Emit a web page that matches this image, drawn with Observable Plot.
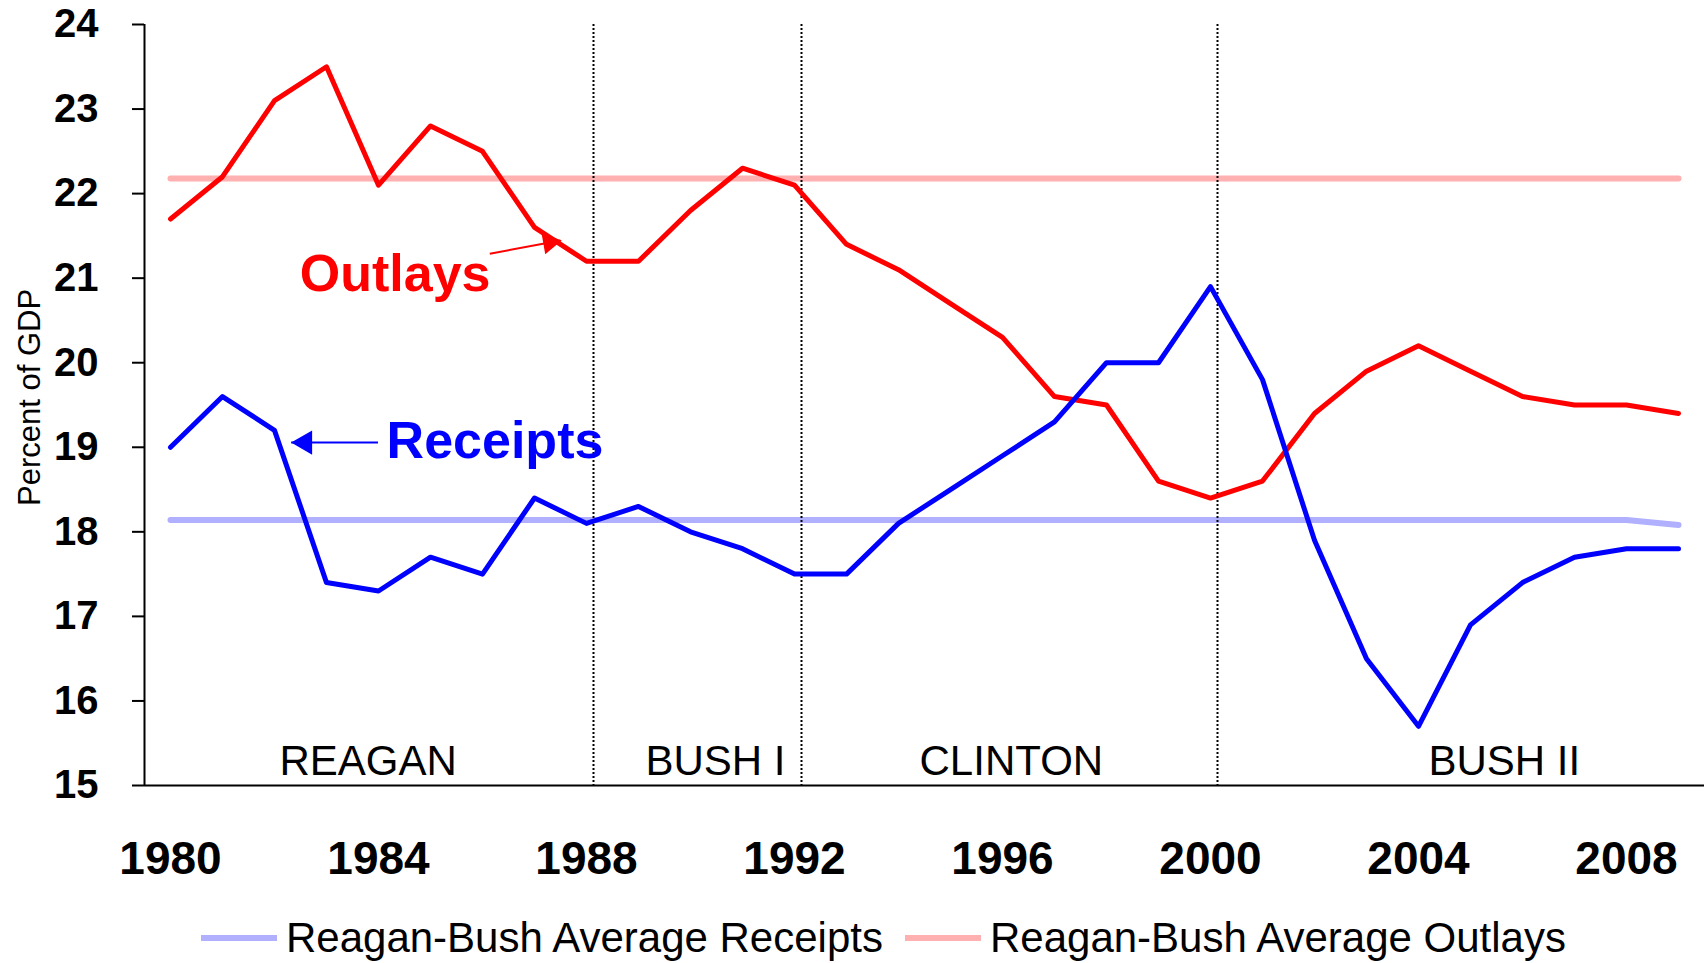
<!DOCTYPE html>
<html>
<head>
<meta charset="utf-8">
<script src="https://cdn.jsdelivr.net/npm/d3@7"></script>
<script src="https://cdn.jsdelivr.net/npm/@observablehq/plot@0.6"></script>
<style>
  html, body { margin: 0; padding: 0; background: #fff; }
  #wrap { position: relative; width: 1704px; height: 963px; font-family: "Liberation Sans", Arial, sans-serif; }
  .sw { position: absolute; top: 935px; width: 76px; height: 6px; }
  .lt { position: absolute; top: 914px; line-height: 48px; font-size: 42px; color: #000; white-space: nowrap; }
</style>
</head>
<body>
<div id="wrap"><div id="chart"></div></div>
<script>
// ---- Data ----
const years = [1980, 1981, 1982, 1983, 1984, 1985, 1986, 1987, 1988, 1989,
               1990, 1991, 1992, 1993, 1994, 1995, 1996, 1997, 1998, 1999,
               2000, 2001, 2002, 2003, 2004, 2005, 2006, 2007, 2008, 2009];
const outlays = [21.7, 22.2, 23.1, 23.5, 22.1, 22.8, 22.5, 21.6, 21.2, 21.2,
                 21.8, 22.3, 22.1, 21.4, 21.1, 20.7, 20.3, 19.6, 19.5, 18.6,
                 18.4, 18.6, 19.4, 19.9, 20.2, 19.9, 19.6, 19.5, 19.5, 19.4];
const receipts = [19.0, 19.6, 19.2, 17.4, 17.3, 17.7, 17.5, 18.4, 18.1, 18.3,
                  18.0, 17.8, 17.5, 17.5, 18.1, 18.5, 18.9, 19.3, 20.0, 20.0,
                  20.9, 19.8, 17.9, 16.5, 15.7, 16.9, 17.4, 17.7, 17.8, 17.8];
const avgReceipts = [18.14, 18.14, 18.14, 18.14, 18.14, 18.14, 18.14, 18.14, 18.14, 18.14,
                     18.14, 18.14, 18.14, 18.14, 18.14, 18.14, 18.14, 18.14, 18.14, 18.14,
                     18.14, 18.14, 18.14, 18.14, 18.14, 18.14, 18.14, 18.14, 18.14, 18.08];
const avgOutlays = [22.18, 22.18, 22.18, 22.18, 22.18, 22.18, 22.18, 22.18, 22.18, 22.18,
                    22.18, 22.18, 22.18, 22.18, 22.18, 22.18, 22.18, 22.18, 22.18, 22.18,
                    22.18, 22.18, 22.18, 22.18, 22.18, 22.18, 22.18, 22.18, 22.18, 22.18];
const xTickYears = [1980, 1984, 1988, 1992, 1996, 2000, 2004, 2008];
const yTicks = [15, 16, 17, 18, 19, 20, 21, 22, 23, 24];
const boundaries = [1988, 1992, 2000];
const periodNames = ["REAGAN", "BUSH I", "CLINTON", "BUSH II"];
const periodX = [1983.8, 1990.48, 1996.17, 2005.65];
const periodY = [15.12, 15.12, 15.12, 15.12];
const seriesLabels = ["Outlays", "Receipts"];
const seriesLabelX = [1984.32, 1986.24];
const seriesLabelY = [20.85, 18.87];
const seriesColors = ["#ff0000", "#0000ff"];
// arrows: start (x1,y1) -> tip (x2,y2)
const outlaysArrow = [{x1: 1986.14, y1: 21.29, x2: 1987.5, y2: 21.445}];
const receiptsArrow = [{x1: 1983.99, y1: 19.056, x2: 1982.32, y2: 19.056}];
const yLabel = "Percent of GDP";
const legendLabels = ["Reagan-Bush Average Receipts", "Reagan-Bush Average Outlays"];
const legendColors = ["#b0b0ff", "#ffb0b0"];
const legendLeft = [201, 905];

// ---- Build ----
const rows = years.map((y, i) => ({
  year: y, outlays: outlays[i], receipts: receipts[i], avgR: avgReceipts[i], avgO: avgOutlays[i]
}));
const periods = periodNames.map((n, i) => ({name: n, x: periodX[i], y: periodY[i]}));
const labels = seriesLabels.map((n, i) => ({name: n, x: seriesLabelX[i], y: seriesLabelY[i], c: seriesColors[i]}));

const chart = Plot.plot({
  width: 1704,
  height: 900,
  marginLeft: 144,
  marginRight: 0,
  marginTop: 24,
  marginBottom: 115,
  x: {domain: [1979.5, 2009.5]},
  y: {domain: [15, 24]},
  style: {fontFamily: "Liberation Sans, Arial, sans-serif", color: "#000", background: "#fff", overflow: "visible"},
  marks: [
    Plot.axisX(xTickYears, {tickSize: 0, tickPadding: 56, fontSize: 46, fontWeight: "bold", tickFormat: "d", label: null}),
    Plot.axisY(yTicks, {tickSize: 12, tickPadding: 34, fontSize: 40, fontWeight: "bold", strokeWidth: 2, tickFormat: "d", label: null}),
    Plot.line(rows, {x: "year", y: "avgR", stroke: legendColors[0], strokeWidth: 6}),
    Plot.line(rows, {x: "year", y: "avgO", stroke: legendColors[1], strokeWidth: 6}),
    Plot.ruleX(boundaries, {dx: 7, stroke: "#000", strokeWidth: 2, strokeDasharray: "2,2"}),
    Plot.line(rows, {x: "year", y: "outlays", stroke: seriesColors[0], strokeWidth: 5, strokeLinejoin: "round", strokeLinecap: "round"}),
    Plot.line(rows, {x: "year", y: "receipts", stroke: seriesColors[1], strokeWidth: 5, strokeLinejoin: "round", strokeLinecap: "round"}),
    Plot.ruleY([15], {stroke: "#000", strokeWidth: 2}),
    Plot.ruleX([1979.5], {stroke: "#000", strokeWidth: 2}),
    Plot.text(periods, {x: "x", y: "y", text: "name", fontSize: 42, lineAnchor: "bottom", fill: "#000"}),
    Plot.text(labels, {x: "x", y: "y", text: "name", fill: "c", fontSize: 52, fontWeight: "bold", lineAnchor: "bottom"}),
    Plot.link(outlaysArrow, {x1: "x1", y1: "y1", x2: "x2", y2: "y2", stroke: seriesColors[0], strokeWidth: 2}),
    Plot.dot(outlaysArrow, {x: "x2", y: "y2", symbol: "triangle", r: 8, rotate: 80, fill: seriesColors[0], stroke: "none", dx: -11, dy: 2}),
    Plot.link(receiptsArrow, {x1: "x1", y1: "y1", x2: "x2", y2: "y2", stroke: seriesColors[1], strokeWidth: 2}),
    Plot.dot(receiptsArrow, {x: "x2", y: "y2", symbol: "triangle", r: 9, rotate: -90, fill: seriesColors[1], stroke: "none", dx: 14, dy: 0}),
    Plot.text([yLabel], {x: 1977.29, y: 19.59, text: d => d, rotate: -90, fontSize: 31, fill: "#000"})
  ]
});
document.getElementById("chart").appendChild(chart);

const wrap = document.getElementById("wrap");
legendLabels.forEach((t, i) => {
  const sw = document.createElement("div");
  sw.className = "sw";
  sw.style.left = legendLeft[i] + "px";
  sw.style.background = legendColors[i];
  wrap.appendChild(sw);
  const lt = document.createElement("div");
  lt.className = "lt";
  lt.style.left = (legendLeft[i] + 85) + "px";
  lt.textContent = t;
  wrap.appendChild(lt);
});
</script>
</body>
</html>
